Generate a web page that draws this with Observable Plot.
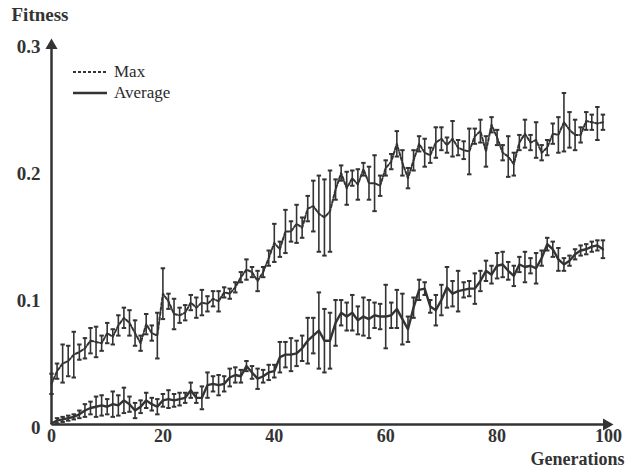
<!DOCTYPE html>
<html>
<head>
<meta charset="utf-8">
<script src="https://cdn.jsdelivr.net/npm/d3@7"></script>
<script src="https://cdn.jsdelivr.net/npm/@observablehq/plot@0.6"></script>
<style>
  html, body { margin: 0; padding: 0; background: #fff; }
  #wrap { position: relative; width: 629px; height: 468px; font-family: "Liberation Serif", "DejaVu Serif", serif; color: #2b2b2b; }
  #legend { position: absolute; left: 73px; top: 61px; font-size: 17px; line-height: 21px; }
  #legend div { display: flex; align-items: center; height: 21px; }
  #legend svg { margin-right: 5px; }
</style>
</head>
<body>
<div id="wrap">
  <div id="chart"></div>
  <div id="legend"></div>
</div>
<script>
// Generations 0..99
const generations = d3.range(0, 100);

const maxValues = [
  0.032, 0.042, 0.048, 0.050, 0.055, 0.057, 0.060, 0.066, 0.065, 0.064,
  0.072, 0.069, 0.078, 0.084, 0.080, 0.072, 0.064, 0.079, 0.072, 0.070,
  0.103, 0.097, 0.087, 0.086, 0.088, 0.096, 0.092, 0.096, 0.095, 0.099,
  0.097, 0.104, 0.103, 0.108, 0.116, 0.122, 0.120, 0.113, 0.120, 0.131,
  0.143, 0.138, 0.152, 0.152, 0.158, 0.155, 0.170, 0.172, 0.166, 0.163,
  0.168, 0.185, 0.198, 0.186, 0.194, 0.189, 0.201, 0.190, 0.190, 0.188,
  0.202, 0.207, 0.221, 0.206, 0.194, 0.208, 0.221, 0.214, 0.212, 0.222,
  0.225, 0.220, 0.225, 0.218, 0.216, 0.215, 0.227, 0.231, 0.215, 0.236,
  0.226, 0.214, 0.211, 0.205, 0.222, 0.229, 0.222, 0.224, 0.214, 0.218,
  0.229, 0.228, 0.238, 0.232, 0.228, 0.228, 0.239, 0.238, 0.237, 0.238
];
const maxErrors = [
  0.008, 0.006, 0.015, 0.012, 0.018, 0.006, 0.008, 0.010, 0.012, 0.006,
  0.008, 0.006, 0.008, 0.008, 0.010, 0.010, 0.006, 0.008, 0.006, 0.018,
  0.020, 0.006, 0.012, 0.006, 0.006, 0.006, 0.008, 0.010, 0.006, 0.006,
  0.008, 0.004, 0.004, 0.004, 0.004, 0.008, 0.004, 0.008, 0.004, 0.006,
  0.015, 0.006, 0.017, 0.008, 0.015, 0.008, 0.010, 0.020, 0.030, 0.030,
  0.032, 0.008, 0.006, 0.013, 0.006, 0.012, 0.005, 0.013, 0.022, 0.008,
  0.006, 0.006, 0.010, 0.010, 0.008, 0.008, 0.006, 0.011, 0.006, 0.012,
  0.009, 0.006, 0.014, 0.006, 0.007, 0.018, 0.006, 0.009, 0.012, 0.006,
  0.006, 0.006, 0.016, 0.009, 0.006, 0.011, 0.006, 0.014, 0.006, 0.006,
  0.008, 0.014, 0.023, 0.014, 0.012, 0.006, 0.007, 0.006, 0.013, 0.006
];

const avgValues = [
  0.001, 0.003, 0.004, 0.005, 0.006, 0.008, 0.011, 0.013, 0.014, 0.015,
  0.014, 0.016, 0.015, 0.019, 0.016, 0.011, 0.014, 0.019, 0.016, 0.014,
  0.019, 0.020, 0.019, 0.020, 0.021, 0.027, 0.021, 0.021, 0.031, 0.032,
  0.031, 0.032, 0.037, 0.039, 0.038, 0.046, 0.041, 0.036, 0.038, 0.041,
  0.042, 0.053, 0.055, 0.055, 0.056, 0.060, 0.066, 0.070, 0.074, 0.066,
  0.066, 0.080, 0.088, 0.085, 0.088, 0.082, 0.085, 0.083, 0.086, 0.085,
  0.085, 0.086, 0.091, 0.083, 0.075, 0.092, 0.106, 0.107, 0.093, 0.090,
  0.098, 0.108, 0.103, 0.105, 0.106, 0.107, 0.107, 0.113, 0.121, 0.118,
  0.125, 0.126, 0.121, 0.117, 0.126, 0.124, 0.125, 0.123, 0.131, 0.142,
  0.138, 0.130, 0.126, 0.129, 0.134, 0.137, 0.138, 0.140, 0.141, 0.138
];
const avgErrors = [
  0.000, 0.002, 0.002, 0.002, 0.002, 0.003, 0.005, 0.005, 0.008, 0.008,
  0.006, 0.010, 0.008, 0.010, 0.006, 0.006, 0.005, 0.006, 0.005, 0.006,
  0.005, 0.007, 0.005, 0.005, 0.004, 0.006, 0.004, 0.009, 0.010, 0.006,
  0.008, 0.006, 0.007, 0.006, 0.005, 0.004, 0.005, 0.008, 0.005, 0.006,
  0.005, 0.012, 0.010, 0.013, 0.010, 0.010, 0.018, 0.014, 0.030, 0.025,
  0.022, 0.018, 0.010, 0.011, 0.014, 0.011, 0.015, 0.015, 0.010, 0.010,
  0.025, 0.010, 0.015, 0.020, 0.010, 0.008, 0.008, 0.005, 0.005, 0.012,
  0.012, 0.016, 0.010, 0.016, 0.006, 0.006, 0.012, 0.008, 0.008, 0.007,
  0.010, 0.010, 0.007, 0.008, 0.006, 0.012, 0.006, 0.012, 0.006, 0.005,
  0.006, 0.009, 0.005, 0.004, 0.004, 0.004, 0.004, 0.004, 0.004, 0.007
];

const xTicks = [0, 20, 40, 60, 80, 100];
const yTicks = [0, 0.1, 0.2, 0.3];
const yTickLabels = ["0", "0.1", "0.2", "0.3"];
const seriesNames = ["Max", "Average"];

const ink = "#333";
const font = "Liberation Serif";

function rows(values, errors) {
  return generations.map((g, i) => ({g, v: values[i], lo: values[i] - errors[i], hi: values[i] + errors[i], e: errors[i]}));
}
const maxRows = rows(maxValues, maxErrors);
const avgRows = rows(avgValues, avgErrors);
const capHalf = 0.4;

function errorMarks(data) {
  const withBars = data.filter(d => d.e > 0);
  return [
    Plot.ruleX(withBars, {x: "g", y1: "lo", y2: "hi", stroke: ink, strokeWidth: 1.6}),
    Plot.link(withBars, {x1: d => d.g - capHalf, x2: d => d.g + capHalf, y1: "lo", y2: "lo", stroke: ink, strokeWidth: 2}),
    Plot.link(withBars, {x1: d => d.g - capHalf, x2: d => d.g + capHalf, y1: "hi", y2: "hi", stroke: ink, strokeWidth: 2})
  ];
}

const chart = Plot.plot({
  width: 629,
  height: 468,
  marginLeft: 51,
  marginRight: 21,
  marginTop: 43,
  marginBottom: 44,
  style: {fontFamily: font, fontSize: "18px", color: ink, background: "#fff"},
  x: {domain: [0, 100], ticks: xTicks},
  y: {domain: [0, 0.3], ticks: yTicks},
  marks: [
    Plot.axisX({ticks: xTicks, tickSize: 0, tickPadding: 5, label: null, fontSize: 18, fontWeight: "bold", fill: ink}),
    Plot.axisY({ticks: yTicks, tickSize: 0, tickPadding: 11, label: null, fontSize: 19, fontWeight: "bold", fill: ink,
      tickFormat: d => yTickLabels[yTicks.indexOf(d)], dy: 3}),
    // axes with arrows
    Plot.link([0], {x1: 0, x2: 100, y1: 0, y2: 0, stroke: ink, strokeWidth: 2.5}),
    Plot.link([0], {x1: 0, x2: 0, y1: 0, y2: 0.3, stroke: ink, strokeWidth: 2.5}),
    Plot.dot([0], {x: 100, y: 0, symbol: "triangle", r: 4.5, fill: ink, rotate: 90, dx: -2}),
    Plot.dot([0], {x: 0, y: 0.3, symbol: "triangle", r: 4.5, fill: ink, dy: 2}),
    // error bars
    ...errorMarks(maxRows),
    ...errorMarks(avgRows),
    // lines
    Plot.line(maxRows, {x: "g", y: "v", stroke: ink, strokeWidth: 2, strokeDasharray: "3,2"}),
    Plot.line(avgRows, {x: "g", y: "v", stroke: ink, strokeWidth: 2.4}),
    // axis titles
    Plot.text(["Fitness"], {frameAnchor: "top-left", textAnchor: "start", dx: -40, dy: -36, fontSize: 19, fontWeight: "bold", fill: ink}),
    Plot.text(["Generations"], {frameAnchor: "bottom-right", textAnchor: "end", dx: 16, dy: 40, fontSize: 18, fontWeight: "bold", fill: ink})
  ]
});
document.getElementById("chart").appendChild(chart);

// legend
const legend = document.getElementById("legend");
seriesNames.forEach((name, i) => {
  const row = document.createElement("div");
  const dash = i === 0 ? "3,2" : null;
  row.innerHTML = `<svg width="36" height="8"><line x1="0" x2="34" y1="4" y2="4" stroke="${ink}" stroke-width="${i === 0 ? 2 : 2.4}" ${dash ? `stroke-dasharray="${dash}"` : ""}/></svg><span>${name}</span>`;
  legend.appendChild(row);
});
</script>
</body>
</html>
